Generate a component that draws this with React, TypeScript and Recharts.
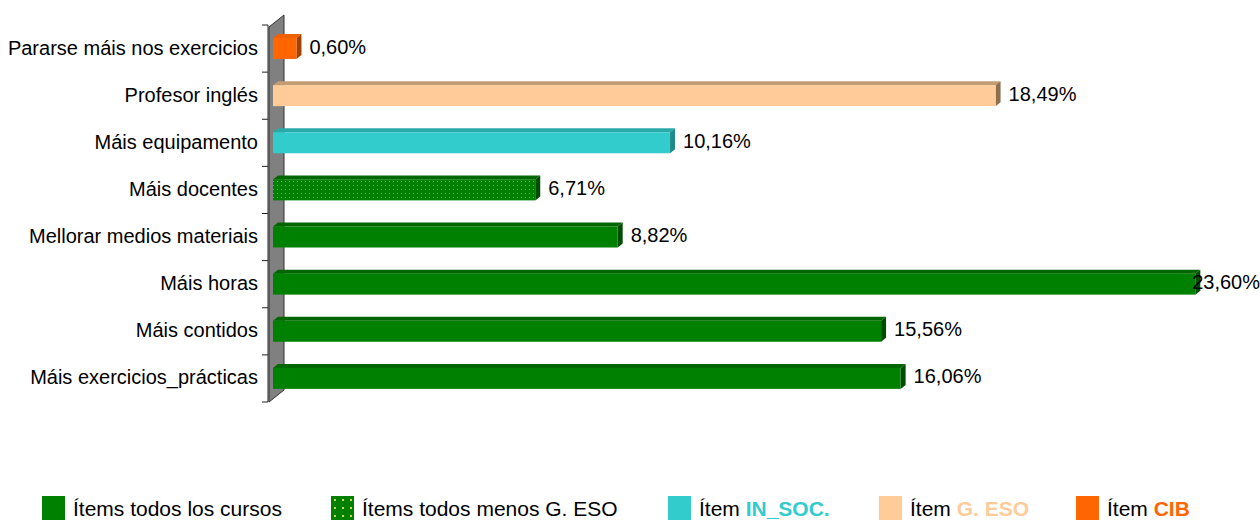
import { BarChart, Bar, XAxis, YAxis, ReferenceArea, LabelList } from 'recharts';

const categories = [
  'Pararse máis nos exercicios',
  'Profesor inglés',
  'Máis equipamento',
  'Máis docentes',
  'Mellorar medios materiais',
  'Máis horas',
  'Máis contidos',
  'Máis exercicios_prácticas',
];
const values = [0.6, 18.49, 10.16, 6.71, 8.82, 23.6, 15.56, 16.06];
const groups = ['cib', 'geso', 'insoc', 'menos', 'todos', 'todos', 'todos', 'todos'];

const FONT = '"Liberation Sans", Arial, sans-serif';

const PALETTE: Record<string, { front: string; top: string; side: string }> = {
  todos: { front: '#008000', top: '#006600', side: '#004C00' },
  menos: { front: 'url(#dotsGreen)', top: '#006600', side: '#004C00' },
  insoc: { front: '#33CCCC', top: '#2AA9A9', side: '#1F8A8A' },
  geso: { front: '#FFCC99', top: '#C49C74', side: '#8F6E4E' },
  cib: { front: '#FF6600', top: '#F06000', side: '#A34000' },
};

const data = categories.map((name, i) => ({ name, value: values[i], group: groups[i] }));

const fmt = (v: number) => v.toFixed(2).replace('.', ',') + '%';

// 3D-ish bar: front face, top face, right side
const Bar3D = (props: any) => {
  const { x, y, width, height, payload } = props;
  const c = PALETTE[payload.group];
  const dx = 5;
  const dy = 4;
  return (
    <g>
      <polygon
        points={`${x},${y} ${x + dx},${y - dy} ${x + width + dx},${y - dy} ${x + width},${y}`}
        fill={c.top}
      />
      <polygon
        points={`${x + width},${y} ${x + width + dx},${y - dy} ${x + width + dx},${y + height - dy} ${x + width},${y + height}`}
        fill={c.side}
      />
      <rect x={x} y={y} width={width} height={height} fill={c.front} />
    </g>
  );
};

// grey side wall + category axis line and ticks
const Wall = (props: any) => {
  const { x, y, height } = props;
  const n = categories.length;
  const ticks = Array.from({ length: n + 1 }, (_, k) => y + (k * height) / n);
  return (
    <g>
      <polygon
        points={`${x - 4},${y + 2} ${x + 11},${y - 10} ${x + 11},${y + height - 12} ${x - 4},${y + height}`}
        fill="#808080"
        stroke="#333"
        strokeWidth={1}
      />
      <line x1={x - 5} y1={y} x2={x - 5} y2={y + height} stroke="#222" />
      {ticks.map((t, i) => (
        <line key={i} x1={x - 11} y1={t} x2={x - 5} y2={t} stroke="#222" />
      ))}
    </g>
  );
};

const CatTick = (props: any) => {
  const { x, y, payload } = props;
  return (
    <text x={x} y={y + 6} textAnchor="end" fontFamily={FONT} fontSize={20} fill="#000">
      {payload.value}
    </text>
  );
};

const ValueLabel = (props: any) => {
  const { x, y, width, height, value } = props;
  let lx = x + width + 13;
  let anchor: 'start' | 'end' = 'start';
  if (lx + 67 > 1260) {
    lx = 1260;
    anchor = 'end';
  }
  return (
    <text x={lx} y={y + height / 2 + 5} textAnchor={anchor} fontFamily={FONT} fontSize={20} fill="#000">
      {fmt(Number(value))}
    </text>
  );
};

const legendItems = [
  { box: '#008000', dots: false, text: 'Ítems todos los cursos', strong: '', color: '', left: 42 },
  { box: '#008000', dots: true, text: 'Ítems todos menos G. ESO', strong: '', color: '', left: 331 },
  { box: '#33CCCC', dots: false, text: 'Ítem ', strong: 'IN_SOC.', color: '#33CCCC', left: 668 },
  { box: '#FFCC99', dots: false, text: 'Ítem ', strong: 'G. ESO', color: '#FFCC99', left: 879 },
  { box: '#FF6600', dots: false, text: 'Ítem ', strong: 'CIB', color: '#FF6600', left: 1076 },
];

export default function App() {
  return (
    <div style={{ position: 'absolute', left: 0, top: 0, width: 1260, height: 523, background: '#fff', overflow: 'hidden' }}>
      <BarChart
        width={1260}
        height={523}
        data={data}
        layout="vertical"
        margin={{ top: 25, right: 10, bottom: 121, left: 0 }}
        barSize={21}
      >
        <defs>
          <pattern id="dotsGreen" width="4" height="4" patternUnits="userSpaceOnUse">
            <rect width="4" height="4" fill="#008000" />
            <rect x="1" y="1" width="1" height="1" fill="#6FAF4F" />
          </pattern>
        </defs>
        <XAxis type="number" domain={[0, 25]} hide />
        <YAxis
          type="category"
          dataKey="name"
          width={273}
          axisLine={false}
          tickLine={false}
          tickSize={0}
          tickMargin={15}
          tick={<CatTick />}
          interval={0}
        />
        <ReferenceArea x1={0} x2={0.1} shape={<Wall />} ifOverflow="visible" />
        <Bar dataKey="value" shape={<Bar3D />} isAnimationActive={false}>
          <LabelList dataKey="value" content={<ValueLabel />} />
        </Bar>
      </BarChart>
      {legendItems.map((it) => (
        <div
          key={it.left}
          style={{
            position: 'absolute',
            left: it.left,
            top: 496,
            height: 25,
            display: 'flex',
            alignItems: 'flex-start',
            fontFamily: FONT,
            fontSize: 21,
            lineHeight: '24px',
            color: '#000',
            whiteSpace: 'nowrap',
          }}
        >
          <span
            style={{
              display: 'inline-block',
              width: 23,
              height: 24,
              marginRight: 8,
              backgroundColor: it.box,
              backgroundImage: it.dots ? 'radial-gradient(circle, #C8D850 0.8px, transparent 1.2px)' : undefined,
              backgroundSize: it.dots ? '8px 8px' : undefined,
            }}
          />
          <span style={{ marginTop: 1 }}>
            {it.text}
            {it.strong && <b style={{ color: it.color }}>{it.strong}</b>}
          </span>
        </div>
      ))}
    </div>
  );
}
